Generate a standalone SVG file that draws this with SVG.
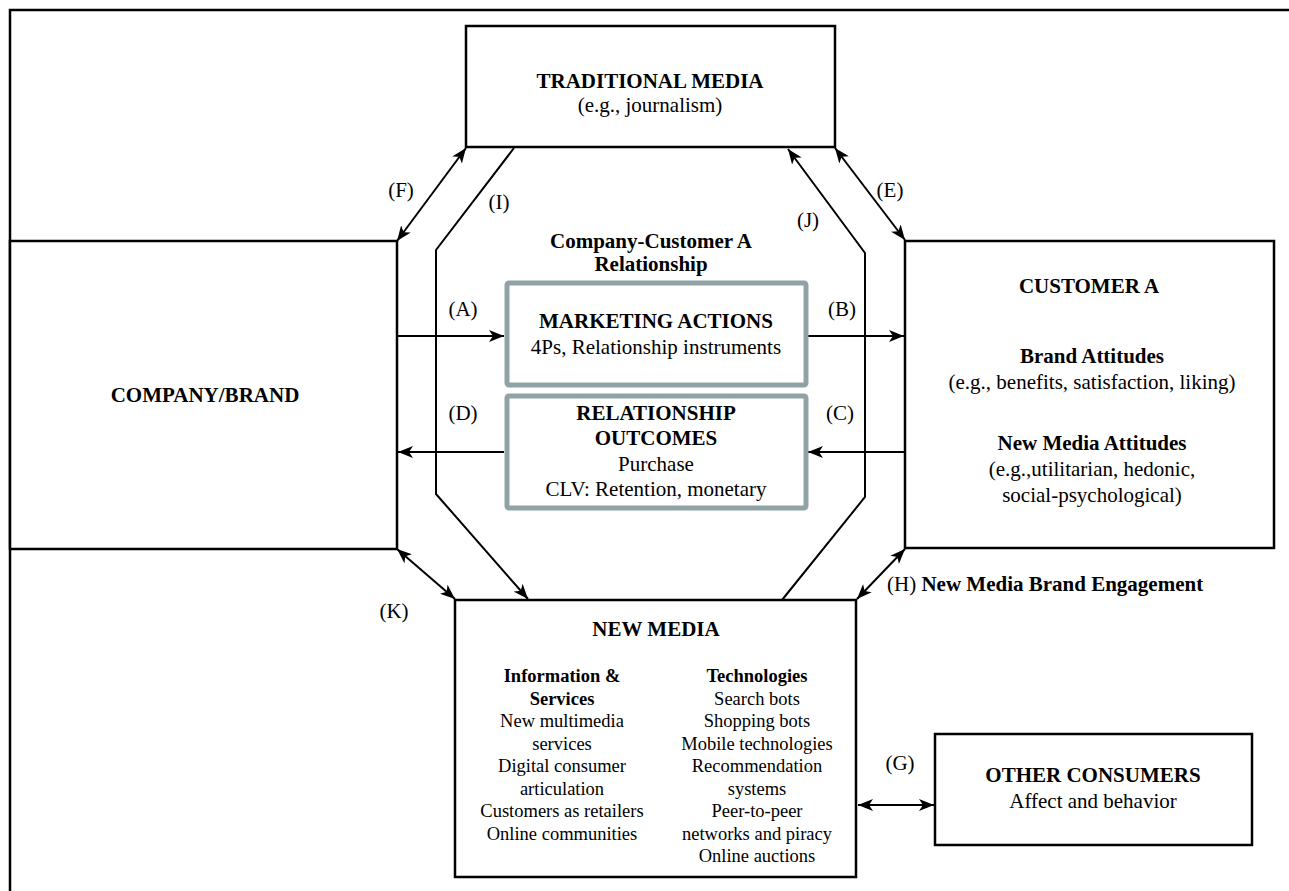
<svg xmlns="http://www.w3.org/2000/svg" width="1289" height="891" viewBox="0 0 1289 891">
<style>
text{font-family:"Liberation Serif","Times New Roman",serif;fill:#000;text-anchor:middle}
.t{font-size:21px}
.b{font-weight:bold}
.s{font-size:18.5px}
.box{fill:#fff;stroke:#000;stroke-width:2.5}
.gbox{fill:#fff;stroke:#8fa3a6;stroke-width:5}
.ln{fill:none;stroke:#000;stroke-width:2}
</style>
<defs>
<marker id="ah" markerWidth="16" markerHeight="12" refX="15" refY="6" orient="auto-start-reverse" markerUnits="userSpaceOnUse">
<path d="M0,0 L15,6 L0,12 L4,6 Z" fill="#000"/>
</marker>
</defs>
<rect width="1289" height="891" fill="#fff"/>
<path d="M10,891 V10 H1289" fill="none" stroke="#000" stroke-width="2.5"/>

<g id="connectors">
<path class="ln" d="M514,148 L436,250 V494 L528,599" marker-end="url(#ah)"/>
<path class="ln" d="M782,600 L865,497 V253 L788,149" marker-end="url(#ah)"/>
<line class="ln" x1="397" y1="241" x2="466" y2="148" marker-start="url(#ah)" marker-end="url(#ah)"/>
<line class="ln" x1="835" y1="148" x2="905" y2="240" marker-start="url(#ah)" marker-end="url(#ah)"/>
<line class="ln" x1="397" y1="549" x2="455" y2="599" marker-start="url(#ah)" marker-end="url(#ah)"/>
<line class="ln" x1="905" y1="549" x2="857" y2="599" marker-start="url(#ah)" marker-end="url(#ah)"/>
<line class="ln" x1="858" y1="805" x2="934" y2="805" marker-start="url(#ah)" marker-end="url(#ah)"/>
<line class="ln" x1="397" y1="336" x2="504" y2="336" marker-end="url(#ah)"/>
<line class="ln" x1="808" y1="336" x2="904" y2="336" marker-end="url(#ah)"/>
<line class="ln" x1="905" y1="452" x2="808" y2="452" marker-end="url(#ah)"/>
<line class="ln" x1="504" y1="452" x2="398" y2="452" marker-end="url(#ah)"/>
<text class="t" x="401" y="197">(F)</text>
<text class="t" x="499" y="209">(I)</text>
<text class="t" x="808" y="227">(J)</text>
<text class="t" x="890" y="197">(E)</text>
<text class="t" x="463" y="316">(A)</text>
<text class="t" x="842" y="316">(B)</text>
<text class="t" x="463" y="420">(D)</text>
<text class="t" x="840" y="420">(C)</text>
<text class="t" x="394" y="618">(K)</text>
<text class="t" x="900" y="770">(G)</text>
<text class="t" x="887" y="591" style="text-anchor:start">(H) <tspan class="b">New Media Brand Engagement</tspan></text>
</g>

<g id="traditional-media">
<rect class="box" x="466" y="26" width="369" height="121"/>
<text class="t b" x="650" y="88">TRADITIONAL MEDIA</text>
<text class="t" x="650" y="112">(e.g., journalism)</text>
</g>

<g id="company-brand">
<rect class="box" x="10" y="241" width="387" height="308"/>
<text class="t b" x="205" y="402">COMPANY/BRAND</text>
</g>

<g id="customer-a">
<rect class="box" x="905" y="241" width="369" height="307"/>
<text class="t b" x="1089" y="293">CUSTOMER A</text>
<text class="t b" x="1092" y="363">Brand Attitudes</text>
<text class="t" x="1092" y="389">(e.g., benefits, satisfaction, liking)</text>
<text class="t b" x="1092" y="450">New Media Attitudes</text>
<text class="t" x="1092" y="476">(e.g.,utilitarian, hedonic,</text>
<text class="t" x="1092" y="502">social-psychological)</text>
</g>

<g id="relationship-label">
<text class="t b" x="651" y="248">Company-Customer A</text>
<text class="t b" x="651" y="271">Relationship</text>
</g>

<g id="marketing-actions">
<rect class="gbox" x="507" y="283" width="299" height="102" rx="2"/>
<text class="t b" x="656" y="328">MARKETING ACTIONS</text>
<text class="t" x="656" y="354">4Ps, Relationship instruments</text>
</g>

<g id="relationship-outcomes">
<rect class="gbox" x="507" y="396" width="299" height="112" rx="2"/>
<text class="t b" x="656" y="420">RELATIONSHIP</text>
<text class="t b" x="656" y="445">OUTCOMES</text>
<text class="t" x="656" y="471">Purchase</text>
<text class="t" x="656" y="496">CLV: Retention, monetary</text>
</g>

<g id="new-media">
<rect class="box" x="455" y="600" width="401" height="277"/>
<text class="t b" x="656" y="636">NEW MEDIA</text>
<text class="s b" x="562" y="682">Information &amp;</text>
<text class="s b" x="562" y="704.5">Services</text>
<text class="s" x="562" y="727">New multimedia</text>
<text class="s" x="562" y="749.5">services</text>
<text class="s" x="562" y="772">Digital consumer</text>
<text class="s" x="562" y="794.5">articulation</text>
<text class="s" x="562" y="817">Customers as retailers</text>
<text class="s" x="562" y="839.5">Online communities</text>
<text class="s b" x="757" y="682">Technologies</text>
<text class="s" x="757" y="704.5">Search bots</text>
<text class="s" x="757" y="727">Shopping bots</text>
<text class="s" x="757" y="749.5">Mobile technologies</text>
<text class="s" x="757" y="772">Recommendation</text>
<text class="s" x="757" y="794.5">systems</text>
<text class="s" x="757" y="817">Peer-to-peer</text>
<text class="s" x="757" y="839.5">networks and piracy</text>
<text class="s" x="757" y="862">Online auctions</text>
</g>

<g id="other-consumers">
<rect class="box" x="935" y="734" width="317" height="111"/>
<text class="t b" x="1093" y="782">OTHER CONSUMERS</text>
<text class="t" x="1093" y="808">Affect and behavior</text>
</g>
</svg>
